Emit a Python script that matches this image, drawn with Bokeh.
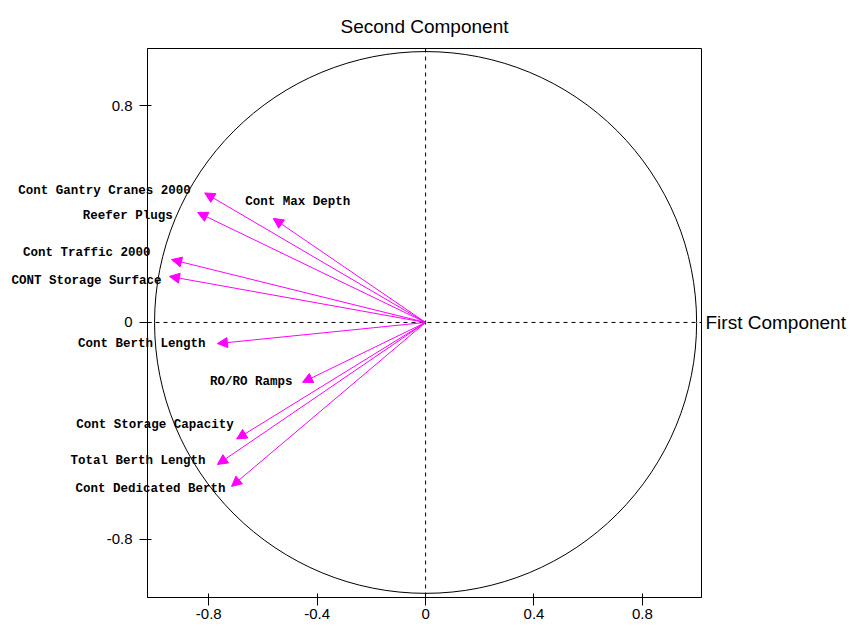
from bokeh.plotting import figure
from bokeh.models import (Range1d, FixedTicker, CustomJSTickFormatter, Span, Arrow,
                          NormalHead, ColumnDataSource)
from bokeh.core.properties import value
from bokeh.embed import file_html
from bokeh.resources import INLINE

# Variable loadings on the first two principal components
variables = ["Cont Gantry Cranes 2000", "Reefer Plugs", "Cont Max Depth",
             "Cont Traffic 2000", "CONT Storage Surface", "Cont Berth Length",
             "RO/RO Ramps", "Cont Storage Capacity", "Total Berth Length",
             "Cont Dedicated Berth"]
first_component = [-0.815, -0.841, -0.562, -0.937, -0.945, -0.768,
                   -0.454, -0.697, -0.768, -0.716]
second_component = [0.478, 0.406, 0.384, 0.232, 0.170, -0.078,
                    -0.221, -0.430, -0.524, -0.605]

x_ticks = [-0.8, -0.4, 0, 0.4, 0.8]
y_ticks = [-0.8, 0, 0.8]
x_title = "First Component"
y_title = "Second Component"

# label placement (screen pixels, styling only)
label_dx = [-14, -25, 77, -21, -8, -12, -10, -3, -12, -6]
label_dy = [-2, 4, -16, -7, 5, 0, 0, -14, -3, 3]

MAGENTA = "#FF00FF"
X_MIN, X_MAX = -1.026, 1.018
Y_MIN, Y_MAX = -1.015, 1.011

p = figure(frame_width=554, frame_height=549,
           x_range=Range1d(X_MIN, X_MAX), y_range=Range1d(Y_MIN, Y_MAX),
           output_backend="svg", toolbar_location=None,
           min_border_left=147, min_border_right=150, min_border_top=48,
           min_border_bottom=26, background_fill_color="white",
           border_fill_color="white")

p.title.text = y_title
p.title.align = "center"
p.title.text_font = "Liberation Sans"
p.title.text_font_style = "normal"
p.title.text_font_size = "19px"
p.title.text_color = "black"
p.title.standoff = 24

p.xgrid.visible = False
p.ygrid.visible = False
p.outline_line_color = "black"
p.outline_line_width = 1

fmt = CustomJSTickFormatter(code="return tick == 0 ? '0' : tick.toFixed(1);")
for ax, ticks, standoff in ((p.xaxis[0], x_ticks, 3), (p.yaxis[0], y_ticks, 7)):
    ax.ticker = FixedTicker(ticks=ticks)
    ax.formatter = fmt
    ax.minor_tick_line_color = None
    ax.major_tick_in = 4
    ax.major_tick_out = 8
    ax.axis_line_color = "black"
    ax.major_tick_line_color = "black"
    ax.major_label_text_font = "Liberation Sans"
    ax.major_label_text_font_size = "15px"
    ax.major_label_text_color = "black"
    ax.major_label_standoff = standoff

# dashed reference axes
p.add_layout(Span(location=0, dimension="height", line_color="black",
                  line_dash="4 4", line_width=1))
p.add_layout(Span(location=0, dimension="width", line_color="black",
                  line_dash="4 4", line_width=1))

# unit correlation circle
p.ellipse(x=0, y=0, width=2, height=2, fill_color=None, line_color="black",
          line_width=1)

src = ColumnDataSource(data=dict(
    x0=[0] * len(variables), y0=[0] * len(variables),
    x=first_component, y=second_component, name=variables,
    dx=label_dx, dy=label_dy))

p.add_layout(Arrow(source=src, x_start="x0", y_start="y0", x_end="x", y_end="y",
                   line_color=MAGENTA, line_width=1,
                   end=NormalHead(size=10, fill_color=MAGENTA,
                                  line_color=MAGENTA, line_width=1)))

p.text(x="x", y="y", text="name", source=src, x_offset="dx", y_offset="dy",
       text_align="right", text_baseline="middle",
       text_font=value("Liberation Mono"), text_font_style="bold",
       text_font_size="12.5px", text_color="black", level="overlay")

p.text(x=[X_MAX], y=[0], text=[x_title], x_offset=4,
       text_align="left", text_baseline="middle",
       text_font=value("Liberation Sans"), text_font_size="19px",
       text_color="black", level="overlay")

open("out.html", "w").write(file_html(p, INLINE))
